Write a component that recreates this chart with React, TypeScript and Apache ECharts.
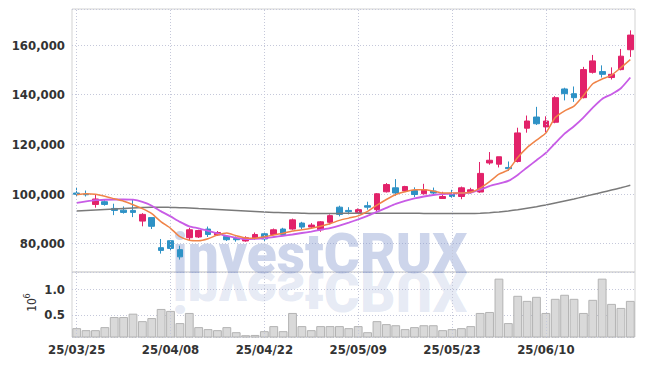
import React, { useEffect, useRef } from 'react';
import * as echarts from 'echarts';

const dates = [
  '25/03/25', '25/03/26', '25/03/27', '25/03/28', '25/03/31', '25/04/01', '25/04/02', '25/04/03', '25/04/04', '25/04/07',
  '25/04/08', '25/04/09', '25/04/10', '25/04/11', '25/04/14', '25/04/15', '25/04/16', '25/04/17', '25/04/18', '25/04/21',
  '25/04/22', '25/04/23', '25/04/24', '25/04/25', '25/04/28', '25/04/29', '25/04/30', '25/05/02', '25/05/07', '25/05/08',
  '25/05/09', '25/05/12', '25/05/13', '25/05/14', '25/05/15', '25/05/16', '25/05/19', '25/05/20', '25/05/21', '25/05/22',
  '25/05/23', '25/05/26', '25/05/27', '25/05/28', '25/05/29', '25/05/30', '25/06/02', '25/06/04', '25/06/05', '25/06/09',
  '25/06/10', '25/06/11', '25/06/12', '25/06/13', '25/06/16', '25/06/17', '25/06/18', '25/06/19', '25/06/20', '25/06/23',
];

// [open, close, low, high]
const ohlc = [
  [100400, 99900, 99200, 102800], [100000, 99700, 99000, 101400], [95800, 98000, 94500, 99800], [96900, 95800, 95300, 97700],
  [94200, 93400, 91500, 96100], [93500, 92600, 92100, 95000], [93400, 92600, 90700, 98000], [89100, 91800, 87000, 92300],
  [90500, 87000, 85900, 90500], [78400, 77300, 76000, 81900], [81200, 78100, 77000, 81200], [77600, 74700, 73600, 79200],
  [82400, 85600, 81300, 86400], [82700, 85300, 82300, 85600], [85900, 83700, 82700, 86900], [83500, 84500, 83100, 85100],
  [82900, 81600, 81100, 83500], [82100, 81600, 80800, 82900], [81100, 82400, 80800, 83000], [82100, 83700, 81600, 84500],
  [84000, 81900, 80800, 84800], [83700, 85600, 83500, 86100], [85900, 83700, 83100, 86400], [85900, 89600, 85600, 90100],
  [88300, 86700, 85900, 88800], [86700, 87500, 86200, 88300], [85600, 88800, 84800, 89100], [88600, 91300, 87800, 91800],
  [94700, 91800, 91000, 95300], [93400, 92900, 91800, 94700], [92600, 93700, 92300, 94200], [95300, 94700, 93700, 96900],
  [93700, 100100, 92900, 100400], [100900, 103800, 100600, 104400], [102500, 100400, 99300, 106000], [101200, 103000, 100900, 103300],
  [101400, 99800, 98800, 102700], [100100, 101700, 99800, 104100], [101200, 100400, 99600, 102600], [98200, 99000, 98000, 100900],
  [100100, 99000, 98500, 101700], [99000, 102500, 97900, 103000], [100900, 101700, 100200, 102500], [100800, 108300, 100500, 112900],
  [112500, 113600, 111800, 116900], [112000, 115000, 110700, 115000], [110700, 110200, 109300, 113100], [113100, 124600, 112700, 126700],
  [126500, 129400, 124700, 131600], [131000, 128300, 127800, 135100], [127000, 129400, 124900, 131300], [128900, 138800, 128500, 139400],
  [142300, 140400, 137700, 142800], [140400, 138800, 137100, 143300], [138800, 150100, 138500, 151200], [149000, 153600, 148500, 156000],
  [149300, 148200, 146900, 151800], [146900, 148200, 146100, 151000], [150100, 155500, 149800, 158400], [158100, 164000, 155200, 165900],
];

// volume, in millions of shares
const volume = [
  0.243, 0.204, 0.204, 0.263, 0.46, 0.46, 0.526, 0.38, 0.44, 0.618,
  0.58, 0.342, 0.54, 0.263, 0.224, 0.204, 0.263, 0.164, 0.105, 0.11,
  0.184, 0.283, 0.184, 0.54, 0.283, 0.204, 0.283, 0.283, 0.283, 0.243,
  0.283, 0.164, 0.38, 0.322, 0.30, 0.224, 0.263, 0.30, 0.30, 0.204,
  0.224, 0.243, 0.283, 0.54, 0.559, 1.21, 0.342, 0.875, 0.776, 0.855,
  0.54, 0.816, 0.895, 0.816, 0.54, 0.796, 1.21, 0.717, 0.638, 0.776,
];

const maShort = [
  99700, 100100, 99900, 99100, 98100, 97100, 95700, 94100, 92100, 88800,
  86200, 82800, 81400, 81200, 82000, 83500, 84300, 83200, 82300, 82200,
  82800, 83500, 84200, 85100, 85600, 86200, 87000, 88000, 89400, 90300,
  91200, 93000, 95500, 97800, 99800, 100900, 101700, 101700, 101200, 100400,
  100400, 100400, 100700, 102400, 105000, 108000, 109700, 114700, 118700, 121700,
  124600, 130800, 133500, 135400, 139600, 144400, 146300, 147900, 150900, 154100,
];

const maMid = [
  96400, 97000, 97500, 97700, 97800, 97800, 97700, 96800, 95300, 93000,
  91000, 88800, 87000, 86200, 85200, 84200, 83100, 82300, 81800, 81900,
  82200, 82700, 83200, 83700, 84300, 84900, 85600, 86300, 87300, 88500,
  89800, 91200, 92800, 94400, 96000, 97200, 98200, 99000, 99600, 100000,
  100100, 100400, 100500, 101800, 103200, 104200, 105300, 107700, 110700, 113600,
  116600, 120500, 124300, 127300, 130800, 134800, 138300, 140200, 142600, 146900,
];

const maLong = [
  93200, 93400, 93600, 93800, 94000, 94200, 94400, 94600, 94700, 94700,
  94600, 94500, 94400, 94200, 94000, 93800, 93600, 93400, 93200, 93000,
  92800, 92600, 92500, 92400, 92300, 92200, 92200, 92200, 92200, 92300,
  92300, 92300, 92300, 92300, 92300, 92300, 92300, 92200, 92200, 92200,
  92200, 92200, 92200, 92300, 92500, 92800, 93200, 93700, 94300, 94900,
  95600, 96400, 97200, 98000, 98900, 99800, 100700, 101600, 102500, 103500,
];

const gridLineDates = [dates[0], dates[10], dates[20], dates[30], dates[40], dates[50]];

export default function App() {
  const ref = useRef<HTMLDivElement>(null);
  useEffect(() => {
    const chart = echarts.init(ref.current!, null, { renderer: 'svg' });
    const font = "'Liberation Sans Narrow','DejaVu Sans Condensed',sans-serif";
    const labelStyle = { color: '#333', fontSize: 13, fontWeight: 'bold' as const, fontFamily: font };
    const dotted = { type: [1, 2] as any, color: '#c5c8da', width: 1 };
    const vMark = {
      silent: true,
      symbol: ['none', 'none'],
      label: { show: false },
      lineStyle: dotted,
      emphasis: { disabled: true },
      data: gridLineDates.map((d) => ({ xAxis: d })),
    };
    chart.setOption({
      animation: false,
      grid: [
        { left: 72, right: 10, top: 9, height: 263, show: true, borderColor: '#d3d3d3', borderWidth: 1 },
        { left: 72, right: 10, top: 272, height: 65, show: true, borderColor: '#d3d3d3', borderWidth: 1 },
      ],
      xAxis: [
        {
          type: 'category', data: dates, gridIndex: 0, boundaryGap: true,
          axisLine: { show: false }, axisTick: { show: false }, axisLabel: { show: false }, splitLine: { show: false },
        },
        {
          type: 'category', data: dates, gridIndex: 1, boundaryGap: true,
          axisLine: { show: false }, axisTick: { show: false },
          axisLabel: { ...labelStyle, interval: 9, margin: 6 }, splitLine: { show: false },
        },
      ],
      yAxis: [
        {
          type: 'value', gridIndex: 0, min: 68600, max: 174500, splitNumber: 5,
          axisLine: { show: false }, axisTick: { show: false },
          axisLabel: {
            ...labelStyle, margin: 7, showMinLabel: false, showMaxLabel: false,
            formatter: (v: number) => v.toLocaleString('en-US'),
          },
          splitLine: { lineStyle: dotted },
        },
        {
          type: 'value', gridIndex: 1, min: 0.07, max: 1.34, splitNumber: 2,
          axisLine: { show: false }, axisTick: { show: false },
          axisLabel: {
            ...labelStyle, margin: 7, showMinLabel: false, showMaxLabel: false,
            formatter: (v: number) => v.toFixed(1),
          },
          splitLine: { lineStyle: dotted },
        },
      ],
      graphic: [
        {
          type: 'text', x: 320, y: 281, z: 1, silent: true,
          style: { text: 'investCRUX', font: '900 55px Roboto', fill: 'rgba(130,150,205,0.4)', textAlign: 'center', textVerticalAlign: 'bottom' },
        },
        {
          type: 'text', x: 320, y: 263, scaleY: -1, z: 1, silent: true,
          style: { text: 'investCRUX', font: '900 55px Roboto', fill: 'rgba(130,150,205,0.2)', textAlign: 'center', textVerticalAlign: 'bottom' },
        },
        {
          type: 'group', x: 32, y: 305, rotation: Math.PI / 2, silent: true,
          children: [
            { type: 'text', x: 0, y: 0, style: { text: '10', font: `12px ${font}`, fill: '#333', textAlign: 'center', textVerticalAlign: 'middle' } },
            { type: 'text', x: 9, y: -5, style: { text: '6', font: `9px ${font}`, fill: '#333', textAlign: 'center', textVerticalAlign: 'middle' } },
          ],
        },
      ],
      series: [
        {
          type: 'candlestick', xAxisIndex: 0, yAxisIndex: 0, data: ohlc, barWidth: '66%', z: 3,
          itemStyle: { color: '#e2226a', color0: '#2e92c6', borderColor: '#e2226a', borderColor0: '#2e92c6', borderWidth: 1 },
          markLine: vMark,
        },
        { type: 'line', xAxisIndex: 0, yAxisIndex: 0, data: maLong, showSymbol: false, smooth: 0.2, lineStyle: { color: '#7a7a7a', width: 1.5 }, z: 4 },
        { type: 'line', xAxisIndex: 0, yAxisIndex: 0, data: maMid, showSymbol: false, smooth: 0.2, lineStyle: { color: '#c85ce6', width: 1.8 }, z: 4 },
        { type: 'line', xAxisIndex: 0, yAxisIndex: 0, data: maShort, showSymbol: false, smooth: 0.2, lineStyle: { color: '#f08448', width: 1.5 }, z: 4 },
        {
          type: 'bar', xAxisIndex: 1, yAxisIndex: 1, data: volume, barCategoryGap: '6%', clip: true,
          itemStyle: { color: '#d9d9d9', borderColor: '#b3b3b3', borderWidth: 1 },
          markLine: vMark,
        },
      ],
    });
    return () => chart.dispose();
  }, []);
  return <div ref={ref} style={{ position: 'absolute', left: 0, top: 0, width: 645, height: 366 }} />;
}
